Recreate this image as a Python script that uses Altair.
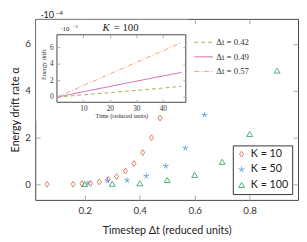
import altair as alt
import pandas as pd

# ---------------- data ----------------
series_labels = ["K = 10", "K = 50", "K = 100"]
k10_dt = [0.063, 0.158, 0.190, 0.221, 0.253, 0.285, 0.316, 0.348, 0.379, 0.411, 0.443, 0.474]
k10_alpha = [0.0, 0.0, 0.02, 0.04, 0.10, 0.21, 0.33, 0.57, 0.89, 1.35, 1.99, 2.83]
k50_dt = [0.212, 0.283, 0.354, 0.424, 0.495, 0.566, 0.636]
k50_alpha = [0.04, 0.15, 0.16, 0.35, 0.78, 1.54, 2.96]
k100_dt = [0.2, 0.3, 0.4, 0.5, 0.6, 0.7, 0.8, 0.9]
k100_alpha = [0.01, 0.02, 0.04, 0.18, 0.40, 0.96, 2.15, 4.86]

inset_labels = ["Δt = 0.42", "Δt = 0.49", "Δt = 0.57"]
inset_time = [0, 37.5, 47]
drift_042 = [0.0, 1.01, 1.29]
drift_049 = [0.0, 2.39, 2.96]
drift_057 = [0.0, 5.22, 6.54]

x_ticks = [0.2, 0.4, 0.6, 0.8]
y_ticks = [0, 2, 4, 6]
inset_x_ticks = [10, 20, 30, 40]
inset_y_ticks = [0, 2, 4, 6]

# ---------------- tables ----------------
rows = []
for lab, xs, ys in zip(series_labels, [k10_dt, k50_dt, k100_dt], [k10_alpha, k50_alpha, k100_alpha]):
    for xv, yv in zip(xs, ys):
        rows.append({"dt": xv, "alpha": yv, "series": lab})
main_df = pd.DataFrame(rows)

irows = []
for lab, ys in zip(inset_labels, [drift_042, drift_049, drift_057]):
    for tv, yv in zip(inset_time, ys):
        irows.append({"t": tv, "v": yv, "run": lab})
inset_df = pd.DataFrame(irows)

one = pd.DataFrame({"a": [0]})

SANS = "Lato"
SERIF = "Liberation Serif"
TICK = "#a8a8a8"
FRAME = "#444444"

main_colors = ["#e5694e", "#5a9be0", "#3aa866"]
diamond = "M0,-1L0.7,0L0,1L-0.7,0Z"
star = "M0,-1L0,0M0.951,-0.309L0,0M0.588,0.809L0,0M-0.588,0.809L0,0M-0.951,-0.309L0,0"
main_shapes = [diamond, star, "triangle-up"]
inset_colors = ["#a9b24f", "#d35fb7", "#f2a07b"]
inset_dashes = [[4, 3], [1, 0], [5, 2, 1, 2]]

main_x = alt.Scale(domain=[0.02, 0.976], nice=False, zero=False)
main_y = alt.Scale(domain=[-0.67, 7.07], nice=False, zero=False)
inset_x = alt.Scale(domain=[0, 48.7], range=[22.3, 154.7], nice=False, zero=False)
inset_y = alt.Scale(domain=[-0.63, 7.5], range=[85.7, 16.3], nice=False, zero=False)

# ---------------- main plot inner ticks on top / right ----------------
ticks_main = alt.Chart(main_df).mark_point(opacity=0).encode(
    x=alt.X("dt:Q", scale=main_x, axis=alt.Axis(orient="top", values=x_ticks, labels=False, title="",
                                                  offset=-5, tickSize=5, domain=False, grid=False,
                                                  tickColor=TICK, zindex=0)),
    y=alt.Y("alpha:Q", scale=main_y, axis=alt.Axis(orient="right", values=y_ticks, labels=False, title="",
                                                     offset=-5, tickSize=5, domain=False, grid=False,
                                                     tickColor=TICK, zindex=0)),
)

inset_bg = alt.Chart(one).mark_rect(color="white").encode(
    x=alt.value(1), x2=alt.value(157), y=alt.value(1), y2=alt.value(105)
)

main_legend = alt.Legend(title=None, orient="none", legendX=203, legendY=130,
                         strokeColor="#333333", fillColor="white", padding=3.5,
                         labelFont=SANS, labelFontSize=11, labelColor="#222222",
                         symbolSize=36, symbolStrokeWidth=0.9, rowPadding=3.8, labelOffset=4)

scatter = alt.Chart(main_df).mark_point(filled=False, strokeWidth=0.9, opacity=1, size=36).encode(
    x=alt.X("dt:Q", scale=main_x,
            axis=alt.Axis(orient="bottom", values=x_ticks, format=".1f", title="Timestep Δt (reduced units)",
                          offset=-5, tickSize=5, domain=False, grid=False, tickColor=TICK,
                          labelFont=SANS, labelFontSize=10, labelColor="#333333", labelPadding=5.5,
                          titleFont=SANS, titleFontSize=11, titleFontWeight="normal", titleColor="#222222",
                          titlePadding=10, zindex=0)),
    y=alt.Y("alpha:Q", scale=main_y,
            axis=alt.Axis(orient="left", values=y_ticks, format="d", title="Energy drift rate α",
                          offset=-5, tickSize=5, domain=False, grid=False, tickColor=TICK,
                          labelFont=SANS, labelFontSize=10, labelColor="#333333", labelPadding=5,
                          titleFont=SANS, titleFontSize=11, titleFontWeight="normal", titleColor="#222222",
                          titlePadding=4, zindex=0)),
    color=alt.Color("series:N", scale=alt.Scale(domain=series_labels, range=main_colors), legend=main_legend),
    shape=alt.Shape("series:N", scale=alt.Scale(domain=series_labels, range=main_shapes), legend=main_legend),
)

inset_frame = alt.Chart(one).mark_rect(fill="white", stroke=FRAME, strokeWidth=1).encode(
    x=alt.value(22.3), x2=alt.value(154.7), y=alt.value(16.3), y2=alt.value(85.7)
)

inset_legend = alt.Legend(title=None, orient="none", legendX=163, legendY=14, padding=0,
                          labelFont=SERIF, labelFontSize=9, labelColor="#333333",
                          symbolType="stroke", symbolSize=361, symbolStrokeWidth=1,
                          rowPadding=-7.6, labelOffset=3)

inset_lines = alt.Chart(inset_df).mark_line(strokeWidth=1).encode(
    x=alt.X("t:Q", scale=inset_x,
            axis=alt.Axis(orient="bottom", values=inset_x_ticks, title="Time (reduced units)",
                          offset=-103.3, tickSize=3, domain=False, grid=False, tickColor=TICK,
                          labelFont=SERIF, labelFontSize=7.5, labelColor="#333333", labelPadding=2,
                          titleFont=SERIF, titleFontSize=6.5, titleFontWeight="normal", titleColor="#333333",
                          titlePadding=1, zindex=1)),
    y=alt.Y("v:Q", scale=inset_y,
            axis=alt.Axis(orient="left", values=inset_y_ticks, format="d", title="Energy drift",
                          offset=-25.3, tickSize=3, domain=False, grid=False, tickColor=TICK,
                          labelFont=SERIF, labelFontSize=7.5, labelColor="#333333", labelPadding=4,
                          titleFont=SERIF, titleFontSize=6.5, titleFontWeight="normal", titleColor="#333333",
                          titlePadding=3.5, titleY=46.5, zindex=1)),
    color=alt.Color("run:N", scale=alt.Scale(domain=inset_labels, range=inset_colors), legend=inset_legend),
    strokeDash=alt.StrokeDash("run:N", scale=alt.Scale(domain=inset_labels, range=inset_dashes), legend=inset_legend),
)

inset_ticks = alt.Chart(inset_df).mark_line(opacity=0).encode(
    x=alt.X("t:Q", scale=inset_x, axis=alt.Axis(orient="top", values=inset_x_ticks, labels=False, title="",
                                                  offset=-19.3, tickSize=3, domain=False, grid=False,
                                                  tickColor=TICK, zindex=1)),
    y=alt.Y("v:Q", scale=inset_y, axis=alt.Axis(orient="right", values=inset_y_ticks, labels=False, title="",
                                                  offset=-118.3, tickSize=3, domain=False, grid=False,
                                                  tickColor=TICK, zindex=1)),
    detail="run:N",
)


def txt(s, x, y, size, font, style="normal"):
    return alt.Chart(one).mark_text(text=s, font=font, fontSize=size, fontStyle=style, align="left",
                                    baseline="alphabetic", color="#222222").encode(
        x=alt.value(x), y=alt.value(y))


texts = [
    txt("·10", 6, -1, 9.5, SANS),
    txt("−4", 21, -4.5, 6.5, SANS),
    txt("·10", 25.7, 12, 7, SERIF),
    txt("−3", 38.5, 9, 5, SERIF),
    txt("K", 69, 12.6, 11, SERIF, "italic"),
    txt("= 100", 80.7, 12.6, 11, SERIF),
]

chart = alt.layer(ticks_main, inset_bg, scatter, inset_frame, inset_lines, inset_ticks, *texts).resolve_scale(
    x="independent", y="independent", color="independent", shape="independent", strokeDash="independent"
).resolve_axis(x="independent", y="independent").resolve_legend(
    color="independent", shape="independent", strokeDash="independent"
).properties(
    width=270, height=186,
    autosize=alt.AutoSizeParams(type="none"),
    padding={"left": 28, "top": 8, "right": 1, "bottom": 38},
    background="white",
).configure_view(stroke=FRAME, strokeWidth=1)

chart.save("out.html", embed_options={"renderer": "svg", "actions": False})
